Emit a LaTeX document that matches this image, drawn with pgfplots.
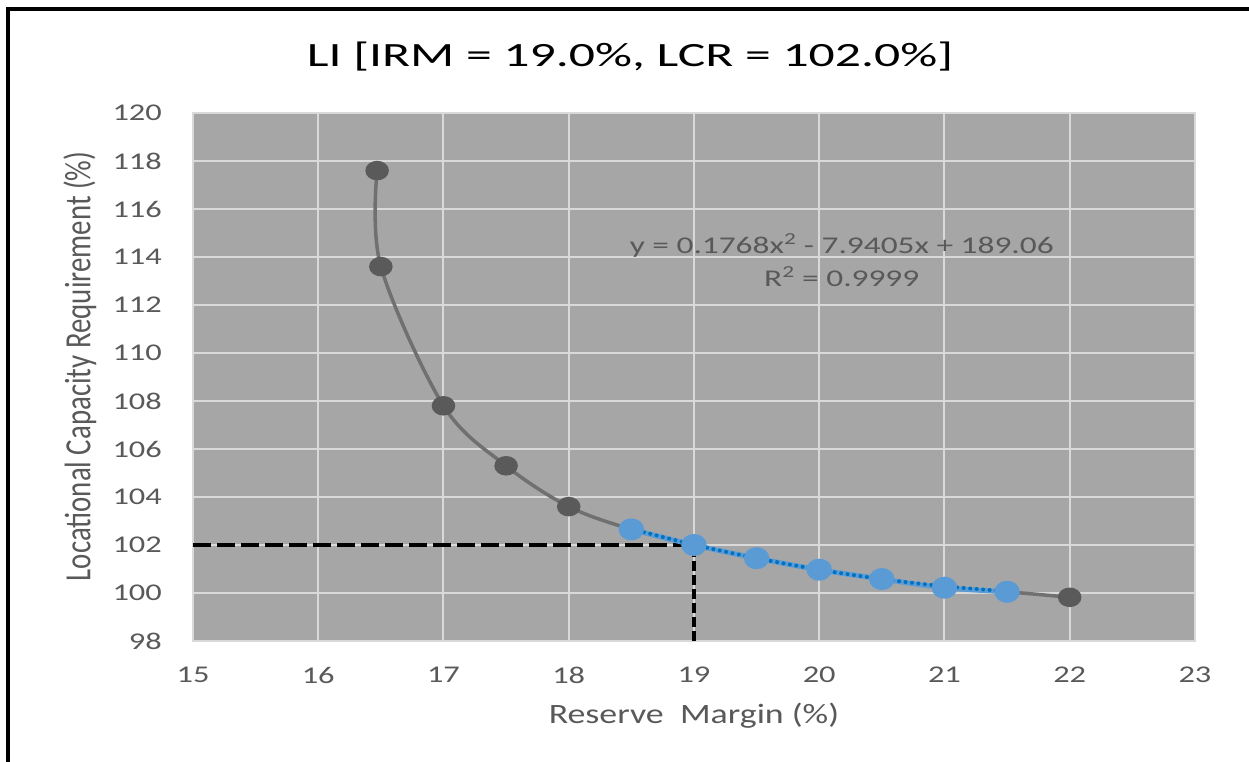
\documentclass[border=0pt]{standalone}
\usepackage{fontspec}
\usepackage{pgfplots}
\pgfplotsset{compat=1.18}
\newfontfamily\hfont[FakeStretch=1.35]{Carlito}
\newfontfamily\tfont[FakeStretch=1.52]{Carlito}
\newfontfamily\lfont[FakeStretch=1.28]{Carlito}
\newfontfamily\efont[FakeStretch=1.39]{Carlito}
\newfontfamily\vfont[FakeStretch=0.78]{Carlito}
\definecolor{bgc}{HTML}{A6A6A6}
\definecolor{gridc}{HTML}{D9D9D9}
\definecolor{txtc}{HTML}{595959}
\definecolor{greyline}{HTML}{707070}
\definecolor{greymark}{HTML}{5A5A5A}
\definecolor{bluemark}{HTML}{5B9BD5}
\definecolor{bluedot}{HTML}{0070C0}

\begin{document}
\begin{tikzpicture}
\useasboundingbox (0pt,0pt) rectangle (1249pt,762pt);
\draw[line width=3.5pt, black] (8pt,0pt) -- (8pt,753pt) -- (1249pt,753pt);
\node[font=\tfont\fontsize{34}{40}\selectfont, text=black] at (630pt,705pt)
  {LI [IRM = 19.0\%, LCR = 102.0\%]};

\begin{axis}[
    at={(193pt,121pt)}, anchor=south west,
    scale only axis, width=1002pt, height=528pt,
    xmin=15, xmax=23, ymin=98, ymax=120,
    xtick={15,16,...,23}, ytick={98,100,...,120},
    grid=major,
    grid style={draw=gridc, line width=2pt},
    axis line style={draw=gridc, line width=2pt},
    axis background/.style={fill=bgc},
    major tick length=0pt,
    /pgf/number format/assume math mode=true,
    tick label style={font=\hfont\fontsize{24}{28}\selectfont, text=txtc, inner sep=0pt},
    xticklabel style={anchor=center, yshift=-34pt},
    yticklabel style={anchor=east, xshift=-31pt},
    xlabel={Reserve\ \ Margin (\%)},
    ylabel={Locational Capacity Requirement (\%)},
    xlabel style={font=\lfont\fontsize{28}{32}\selectfont, text=txtc,
        at={(axis description cs:0.5,-0.141)}, anchor=center, inner sep=0pt},
    ylabel style={font=\vfont\fontsize{37}{40}\selectfont, text=txtc,
        at={(axis description cs:-0.113,0.52)}, anchor=center, inner sep=0pt},
    clip=false,
]
% reference lines at IRM = 19.0, LCR = 102.0
\addplot[black, line width=4pt, dash pattern=on 18pt off 6pt] coordinates {(15,102) (19,102)};
\addplot[black, line width=4pt, dash pattern=on 10pt off 4pt] coordinates {(19,98) (19,102)};

% full curve
\addplot[greyline, line width=3.5pt, smooth, tension=0.55,
    mark=*, mark size=8pt, mark options={greymark, xscale=1.25}] coordinates {
    (16.47,117.6) (16.5,113.6) (17,107.8) (17.5,105.3) (18,103.6)
    (18.5,102.65) (19,102.0) (19.5,101.45) (20,100.97) (20.5,100.58)
    (21,100.22) (21.5,100.05) (22,99.82)
};
% fitted points
\addplot[bluemark, line width=5pt, smooth,
    mark=*, mark size=8.5pt, mark options={bluemark, xscale=1.2}] coordinates {
    (18.5,102.65) (19,102.0) (19.5,101.45) (20,100.97) (20.5,100.58)
    (21,100.22) (21.5,100.05)
};
% trendline
\addplot[bluedot, line width=4pt, smooth, line cap=round, dash pattern=on 0pt off 6.5pt] coordinates {
    (18.5,102.67) (19,102.01) (19.5,101.45) (20,100.97) (20.5,100.58)
    (21,100.28) (21.5,100.07)
};

\node[font=\efont\fontsize{24}{28}\selectfont, text=txtc, inner sep=0pt] at (axis cs:20.18,114.46)
  {y = 0.1768x\textsuperscript{2} - 7.9405x + 189.06};
\node[font=\efont\fontsize{24}{28}\selectfont, text=txtc, inner sep=0pt] at (axis cs:20.18,113.17)
  {R\textsuperscript{2} = 0.9999};
\end{axis}
\end{tikzpicture}
\end{document}
